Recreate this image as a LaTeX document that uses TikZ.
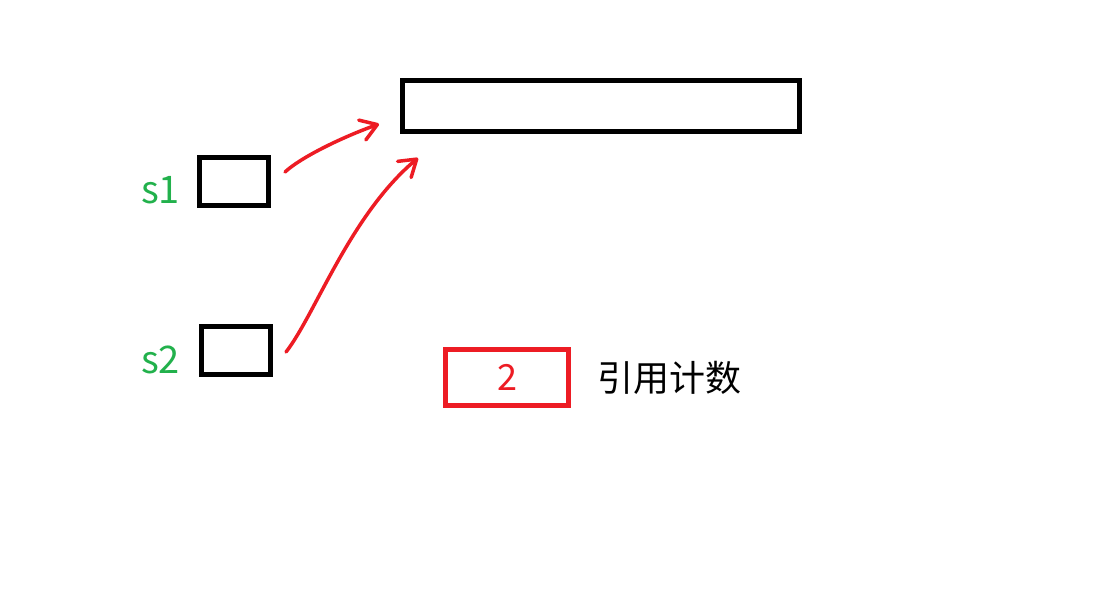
\documentclass[tikz,border=0pt]{standalone}
\usepackage{fontspec}
\setmainfont{Noto Sans CJK SC}
\usetikzlibrary{arrows.meta}
\definecolor{pgreen}{RGB}{34,177,76}
\definecolor{pred}{RGB}{237,28,36}
\tikzset{
  memcell/.style={draw=black,line width=5pt,inner sep=0pt,minimum width=69pt,minimum height=48pt},
  heapbox/.style={draw=black,line width=5pt,inner sep=0pt,minimum width=397pt,minimum height=51pt},
  countbox/.style={draw=pred,line width=5pt,inner sep=0pt,minimum width=123pt,minimum height=56pt,
    text=pred,font=\fontsize{36}{40}\selectfont},
  varlabel/.style={text=pgreen,inner sep=0pt,font=\fontsize{38}{42}\selectfont},
  note/.style={text=black,inner sep=0pt,font=\fontsize{36}{40}\selectfont},
  refarrow/.style={draw=pred,line width=3.5pt,line cap=round,line join=round,
    -{Straight Barb[length=16pt,width=21pt,line cap=round,line join=round]}}
}
\begin{document}
\begin{tikzpicture}[x=1pt,y=-1pt]
\useasboundingbox[fill=white] (0,0) rectangle (1099,598);
% boxes
\node[heapbox] (heap) at (601,106) {};
\node[memcell] (s1box) at (234,181.5) {};
\node[memcell] (s2box) at (236,350.5) {};
\node[countbox] (count) at (507,377.5) {2};
% labels
\node[varlabel,anchor=base west] (s1lab) at (141,203) {s1};
\node[varlabel,anchor=base west] (s2lab) at (141,373) {s2};
\node[note,anchor=west] (cnt) at (597,378) {引用计数};
% arrow ends
\coordinate (a1s) at (285,172);
\coordinate (a1e) at (379,124);
\coordinate (a2s) at (286,352);
\coordinate (a2e) at (418,158);
\draw[refarrow] (a1s) .. controls (300,158) and (340,138) .. (a1e);
\draw[refarrow] (a2s) .. controls (315,315) and (350,215) .. (a2e);
\end{tikzpicture}
\end{document}
